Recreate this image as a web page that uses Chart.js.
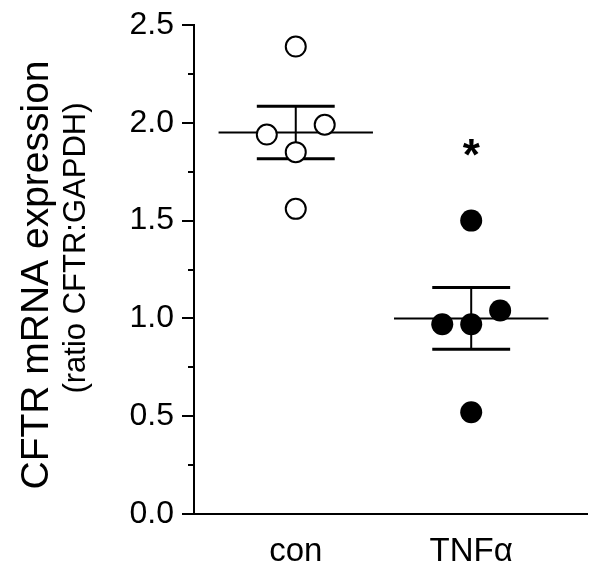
<!DOCTYPE html>
<html>
<head>
<meta charset="utf-8">
<script src="https://cdn.jsdelivr.net/npm/chart.js@4/dist/chart.umd.min.js"></script>
<style>
  html, body { margin: 0; padding: 0; background: #fff; }
  #wrap { width: 599px; height: 567px; }
</style>
</head>
<body>
<div id="wrap"><canvas id="chart" width="599" height="567"></canvas></div>
<script>
// groups on the x axis
const groups = ['con', 'TNF\u03b1'];
const groupPos = [1, 2];

// individual measurements (ratio CFTR:GAPDH) and their horizontal scatter offset
const conValues = [2.39, 1.94, 1.99, 1.85, 1.56];
const conJitter = [0, -0.165, 0.165, 0, 0];
const tnfValues = [1.50, 0.97, 0.97, 1.04, 0.52];
const tnfJitter = [0, -0.165, 0, 0.165, 0];

// mean +/- SEM per group
const means = [1.95, 1.00];
const sems = [0.134, 0.158];

// significance marker
const sigGroup = 2;
const sigValue = 1.85;

const yMin = 0, yMax = 2.5, yStep = 0.25;
const FONT = '"Liberation Sans", Arial, Helvetica, sans-serif';

function toPoints(values, jitter, pos) {
    return values.map((v, i) => ({ x: pos + jitter[i], y: v }));
}

// mean line and SEM bars, drawn under the points
const summaryPlugin = {
    id: 'summary',
    beforeDatasetsDraw(chart) {
        const ctx = chart.ctx;
        const xs = chart.scales.x, ys = chart.scales.y;
        ctx.save();
        ctx.strokeStyle = '#000';
        ctx.lineCap = 'butt';
        groupPos.forEach((pos, i) => {
            const yMean = ys.getPixelForValue(means[i]);
            const yHi = ys.getPixelForValue(means[i] + sems[i]);
            const yLo = ys.getPixelForValue(means[i] - sems[i]);
            const xc = xs.getPixelForValue(pos);
            ctx.lineWidth = 2;
            ctx.beginPath();
            ctx.moveTo(xs.getPixelForValue(pos - 0.44), yMean);
            ctx.lineTo(xs.getPixelForValue(pos + 0.44), yMean);
            ctx.moveTo(xc, yHi);
            ctx.lineTo(xc, yLo);
            ctx.stroke();
            ctx.lineWidth = 3;
            ctx.beginPath();
            ctx.moveTo(xs.getPixelForValue(pos - 0.222), yHi);
            ctx.lineTo(xs.getPixelForValue(pos + 0.222), yHi);
            ctx.moveTo(xs.getPixelForValue(pos - 0.222), yLo);
            ctx.lineTo(xs.getPixelForValue(pos + 0.222), yLo);
            ctx.stroke();
        });
        ctx.restore();
    }
};

// tick marks (long at labelled values), axis titles and the asterisk
const extrasPlugin = {
    id: 'extras',
    afterDraw(chart) {
        const ctx = chart.ctx;
        const xs = chart.scales.x, ys = chart.scales.y;
        const left = chart.chartArea.left;
        ctx.save();
        ctx.strokeStyle = '#000';
        ctx.lineWidth = 2;
        for (let v = yMin; v <= yMax + 1e-9; v += yStep) {
            const y = Math.round(ys.getPixelForValue(v));
            const major = Math.abs(v / 0.5 - Math.round(v / 0.5)) < 1e-6;
            ctx.beginPath();
            ctx.moveTo(left - (major ? 12 : 6), y);
            ctx.lineTo(left, y);
            ctx.stroke();
        }

        ctx.fillStyle = '#000';
        ctx.textAlign = 'center';
        ctx.textBaseline = 'alphabetic';
        ctx.save();
        ctx.translate(48, 275);
        ctx.rotate(-Math.PI / 2);
        ctx.font = '39px ' + FONT;
        ctx.fillText('CFTR mRNA expression', 0, 0);
        ctx.restore();
        ctx.save();
        ctx.translate(85, 248);
        ctx.rotate(-Math.PI / 2);
        ctx.font = '31px ' + FONT;
        ctx.fillText('(ratio CFTR:GAPDH)', 0, 0);
        ctx.restore();

        ctx.font = 'bold 44px ' + FONT;
        ctx.textBaseline = 'middle';
        ctx.fillText('*', xs.getPixelForValue(sigGroup), ys.getPixelForValue(sigValue) + 6);
        ctx.restore();
    }
};

new Chart(document.getElementById('chart'), {
    type: 'scatter',
    data: {
        datasets: [{
            label: groups[0],
            data: toPoints(conValues, conJitter, groupPos[0]),
            pointRadius: 10,
            pointBackgroundColor: '#fff',
            pointBorderColor: '#000',
            pointBorderWidth: 2
        }, {
            label: groups[1],
            data: toPoints(tnfValues, tnfJitter, groupPos[1]),
            pointRadius: 11,
            pointBackgroundColor: '#000',
            pointBorderColor: '#000',
            pointBorderWidth: 0
        }]
    },
    options: {
        responsive: false,
        animation: false,
        layout: { padding: { top: 25, right: 7, left: 0, bottom: 0 } },
        plugins: { legend: { display: false }, tooltip: { enabled: false } },
        scales: {
            x: {
                type: 'linear',
                min: 0.42,
                max: 2.66,
                afterFit(scale) {
                    scale.height = 53;
                    scale.paddingLeft = 0;
                    scale.paddingRight = 0;
                },
                afterBuildTicks(scale) { scale.ticks = groupPos.map(p => ({ value: p })); },
                grid: { display: false, drawTicks: false },
                border: { display: true, color: '#000', width: 2 },
                ticks: {
                    color: '#000',
                    font: { family: FONT, size: 33 },
                    padding: 18,
                    maxRotation: 0,
                    callback: (v) => groups[groupPos.indexOf(v)] || ''
                }
            },
            y: {
                min: yMin,
                max: yMax,
                afterFit(scale) {
                    scale.width = 194;
                    scale.paddingTop = 0;
                    scale.paddingBottom = 0;
                },
                grid: { display: false, drawTicks: false },
                border: { display: true, color: '#000', width: 2 },
                ticks: {
                    stepSize: yStep,
                    color: '#000',
                    font: { family: FONT, size: 32 },
                    padding: 20,
                    autoSkip: false,
                    callback: (v) => Math.abs(v / 0.5 - Math.round(v / 0.5)) < 1e-6 ? v.toFixed(1) : ''
                }
            }
        }
    },
    plugins: [summaryPlugin, extrasPlugin]
});
</script>
</body>
</html>
